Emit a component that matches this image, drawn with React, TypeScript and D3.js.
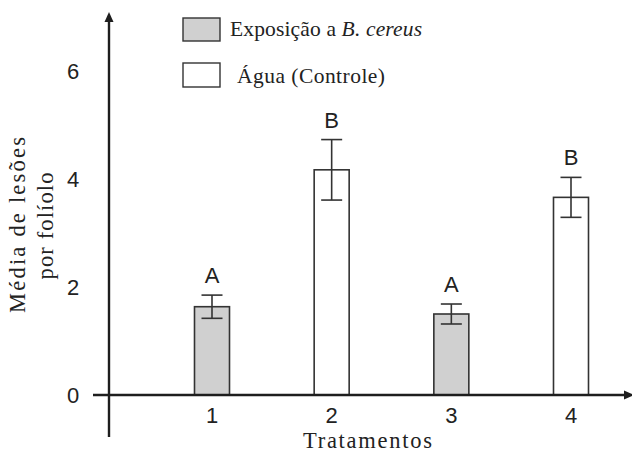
import React from "react";
import * as d3 from "d3";

const categories = ["1", "2", "3", "4"];
const means = [1.635, 4.17, 1.5, 3.66];
const errors = [0.215, 0.56, 0.185, 0.37];
const groups = ["bc", "agua", "bc", "agua"];
const letters = ["A", "B", "A", "B"];
const yTicks = [0, 2, 4, 6];
const legendLabels = ["Exposição a ", "B. cereus", "Água (Controle)"];

const W = 632;
const H = 452;
const SERIF = "Liberation Serif, Times New Roman, Times, DejaVu Serif, serif";
const SANS = "Liberation Sans, Arial, Helvetica, sans-serif";
const AX = "#1e1e1e";
const ST = "#333";

export default function App() {
  const y = d3.scaleLinear().domain([0, 6]).range([395, 71]);
  const x = d3.scalePoint<string>().domain(categories).range([212, 571]);
  const bw = 35;
  const cap = 21;
  const axisX = 109;
  const fill = (g: string) => (g === "bc" ? "#d0d0d0" : "#ffffff");

  return (
    <svg
      width={W}
      height={H}
      viewBox={`0 0 ${W} ${H}`}
      style={{ position: "absolute", left: 0, top: 0, background: "#fff" }}
    >
      <rect x={0} y={0} width={W} height={H} fill="#fff" />

      {categories.map((c, i) => {
        const cx = x(c) as number;
        const top = y(means[i]);
        const eTop = y(means[i] + errors[i]);
        const eBot = y(means[i] - errors[i]);
        return (
          <g key={c}>
            <rect
              x={cx - bw / 2}
              y={top}
              width={bw}
              height={y(0) - top}
              fill={fill(groups[i])}
              stroke={ST}
              strokeWidth={1.6}
            />
            <line x1={cx} x2={cx} y1={eTop} y2={eBot} stroke={ST} strokeWidth={1.6} />
            <line x1={cx - cap / 2} x2={cx + cap / 2} y1={eTop} y2={eTop} stroke={ST} strokeWidth={1.6} />
            <line x1={cx - cap / 2} x2={cx + cap / 2} y1={eBot} y2={eBot} stroke={ST} strokeWidth={1.6} />
            <text x={cx} y={eTop - 12} textAnchor="middle" fontFamily={SANS} fontSize={22} fill="#222">
              {letters[i]}
            </text>
            <text x={cx} y={423} textAnchor="middle" fontFamily={SANS} fontSize={22} fill="#222">
              {c}
            </text>
          </g>
        );
      })}

      {yTicks.map((t) => (
        <text key={t} x={73} y={y(t) + 8} textAnchor="middle" fontFamily={SANS} fontSize={22} fill="#222">
          {t}
        </text>
      ))}

      <line x1={93} x2={626} y1={y(0)} y2={y(0)} stroke={AX} strokeWidth={2.4} />
      <path d={`M634,${y(0)} L624,${y(0) - 4.5} L624,${y(0) + 4.5} Z`} fill={AX} />
      <line x1={axisX} x2={axisX} y1={20} y2={437} stroke={AX} strokeWidth={2.4} />
      <path d={`M${axisX},12 L${axisX - 4.5},22 L${axisX + 4.5},22 Z`} fill={AX} />

      <text
        x={367.5}
        y={448}
        textAnchor="middle"
        style={{ fontFamily: SERIF }}
        fontSize={22.5}
        textLength={129}
        lengthAdjust="spacing"
        fill="#222"
      >
        Tratamentos
      </text>
      <g transform="translate(25,225) rotate(-90)">
        <text
          x={0}
          y={0}
          textAnchor="middle"
          style={{ fontFamily: SERIF }}
          fontSize={22.5}
          textLength={176}
          lengthAdjust="spacing"
          fill="#222"
        >
          Média de lesões
        </text>
      </g>
      <g transform="translate(53,226) rotate(-90)">
        <text
          x={0}
          y={0}
          textAnchor="middle"
          style={{ fontFamily: SERIF }}
          fontSize={22.5}
          textLength={107}
          lengthAdjust="spacing"
          fill="#222"
        >
          por folíolo
        </text>
      </g>

      <rect x={183} y={18} width={37} height={23} fill="#d0d0d0" stroke={ST} strokeWidth={1.4} />
      <rect x={183} y={63} width={37} height={24} fill="#fff" stroke={ST} strokeWidth={1.4} />
      <text
        x={230}
        y={36}
        style={{ fontFamily: SERIF }}
        fontSize={21.5}
        textLength={192}
        lengthAdjust="spacing"
        fill="#222"
      >
        {legendLabels[0]}
        <tspan fontStyle="italic">{legendLabels[1]}</tspan>
      </text>
      <text
        x={237}
        y={83}
        style={{ fontFamily: SERIF }}
        fontSize={21.5}
        textLength={148}
        lengthAdjust="spacing"
        fill="#222"
      >
        {legendLabels[2]}
      </text>
    </svg>
  );
}
